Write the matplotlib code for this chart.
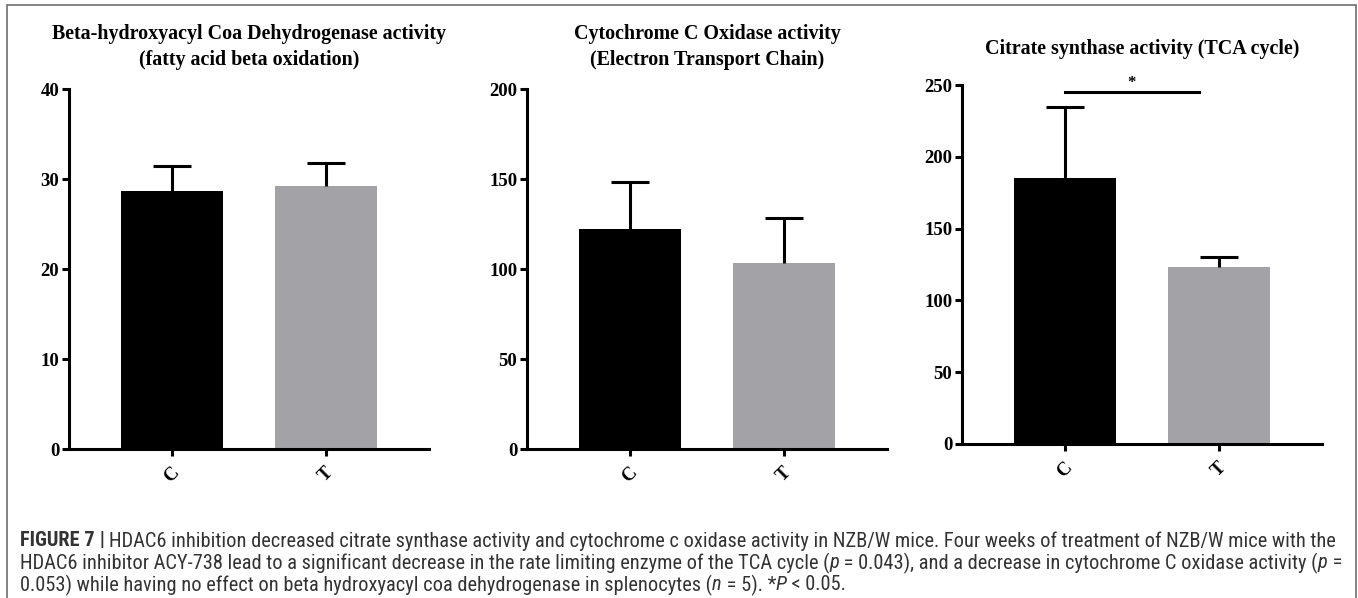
import matplotlib
matplotlib.use("Agg")
import matplotlib.pyplot as plt
from matplotlib import font_manager
from matplotlib.patches import Rectangle

# ---------------- data ----------------
groups = ["C", "T"]
titles = [
    "Beta-hydroxyacyl Coa Dehydrogenase activity\n(fatty acid beta oxidation)",
    "Cytochrome C Oxidase activity\n(Electron Transport Chain)",
    "Citrate synthase activity (TCA cycle)",
]
means_hadh = [28.7, 29.2]
errs_hadh = [2.8, 2.6]
means_cox = [122, 103.5]
errs_cox = [26.5, 25.0]
means_cs = [185.5, 123.2]
errs_cs = [49.0, 7.0]
yticks_hadh = [0, 10, 20, 30, 40]
yticks_cox = [0, 50, 100, 150, 200]
yticks_cs = [0, 50, 100, 150, 200, 250]
sig_y = 245
sig_x = [0, 0.87]
sig_label = "*"

bar_colors = ["#000000", "#a3a3a7"]

W, H = 1358, 598
fig = plt.figure(figsize=(W / 100, H / 100), dpi=100)

avail = {f.name for f in font_manager.fontManager.ttflist}
serif = "Liberation Serif" if "Liberation Serif" in avail else "DejaVu Serif"
cap_font = "Liberation Sans"
for cand in ["Liberation Sans Narrow", "Roboto Condensed", "Open Sans Condensed", "Liberation Sans"]:
    if cand in avail:
        cap_font = cand
        break

def px_axes(x0, x1, ytop, ybot):
    return [x0 / W, 1 - ybot / H, (x1 - x0) / W, (ybot - ytop) / H]

panels = [
    (px_axes(69, 429, 89, 449), means_hadh, errs_hadh, yticks_hadh, titles[0]),
    (px_axes(527, 887, 89, 449), means_cox, errs_cox, yticks_cox, titles[1]),
    (px_axes(962, 1322, 85, 444), means_cs, errs_cs, yticks_cs, titles[2]),
]
title_y = [47.5, 47.5, 49]

for i, (rect, means, errs, yt, title) in enumerate(panels):
    ax = fig.add_axes(rect)
    x = list(range(len(groups)))
    ax.bar(x, means, width=0.66, color=bar_colors, zorder=2)
    for xi, m, e in zip(x, means, errs):
        ax.vlines(xi, m, m + e, color="black", lw=2.2, zorder=3)
        ax.hlines(m + e, xi - 0.125, xi + 0.125, color="black", lw=2.2, zorder=3)
    ax.set_xlim(-0.67, 1.67)
    ax.set_ylim(yt[0], yt[-1])
    ax.set_yticks(yt)
    ax.set_xticks(x)
    ax.set_xticklabels(groups, rotation=45, fontfamily=serif, fontweight="bold", fontsize=13.5,
                       ha="center", va="top")
    ax.set_yticklabels([str(v) for v in yt], fontfamily=serif, fontweight="bold", fontsize=13.5)
    for s in ["top", "right"]:
        ax.spines[s].set_visible(False)
    for s in ["left", "bottom"]:
        ax.spines[s].set_linewidth(2.2)
    ax.tick_params(axis="both", width=2.2, length=5, pad=2, color="black")
    ax.tick_params(axis="x", pad=6)
    ax.patch.set_alpha(0)
    if i == 2:
        ax.plot(sig_x, [sig_y, sig_y], color="black", lw=2.2, clip_on=False)
        ax.text(sum(sig_x) / 2, sig_y + 1, sig_label, ha="center", va="bottom",
                fontfamily=serif, fontweight="bold", fontsize=12, clip_on=False)
    cx = (rect[0] + rect[2] / 2)
    fig.text(cx, 1 - title_y[i] / H, title, ha="center", va="center", fontfamily=serif,
             fontweight="bold", fontsize=14.4, linespacing=1.4)

# frame around figure
fig.patches.append(Rectangle((7 / W, -0.01), (1356 - 7) / W, 1 - 5 / H + 0.01,
                             transform=fig.transFigure, fill=False,
                             edgecolor="#6e6e6e", lw=1.2))

# ---------------- caption ----------------
cap_lines = [
    [("FIGURE 7", "bold", "normal"), (" | ", "bold", "normal"),
     ("HDAC6 inhibition decreased citrate synthase activity and cytochrome c oxidase activity in NZB/W mice. "
      "Four weeks of treatment of NZB/W mice with the", "normal", "normal")],
    [("HDAC6 inhibitor ACY-738 lead to a significant decrease in the rate limiting enzyme of the TCA cycle (",
      "normal", "normal"), ("p", "normal", "italic"),
     (" = 0.043), and a decrease in cytochrome C oxidase activity (", "normal", "normal"),
     ("p", "normal", "italic"), (" =", "normal", "normal")],
    [("0.053) while having no effect on beta hydroxyacyl coa dehydrogenase in splenocytes (", "normal", "normal"),
     ("n", "normal", "italic"), (" = 5). *", "normal", "normal"), ("P", "normal", "italic"),
     (" < 0.05.", "normal", "normal")],
]
cap_y = [541, 563, 585]
cap_x0 = 20
cap_x1 = 1332
cap_color = "#333333"

renderer = fig.canvas.get_renderer()

def draw_line(runs, y, size):
    xpix = cap_x0
    arts = []
    for txt, wt, st in runs:
        t = fig.text(xpix / W, 1 - y / H, txt, fontfamily=cap_font, fontweight=wt, fontstyle=st,
                     fontsize=size, color=cap_color, ha="left", va="center")
        bb = t.get_window_extent(renderer)
        xpix += bb.width
        arts.append(t)
    return xpix, arts

# fit font size so that first line spans to cap_x1
size = 11.0
for _ in range(4):
    end, arts = draw_line(cap_lines[0], cap_y[0], size)
    for a in arts:
        a.remove()
    size = size * (cap_x1 - cap_x0) / (end - cap_x0)
for runs, y in zip(cap_lines, cap_y):
    draw_line(runs, y, size)

fig.savefig("out.png", dpi=100)
